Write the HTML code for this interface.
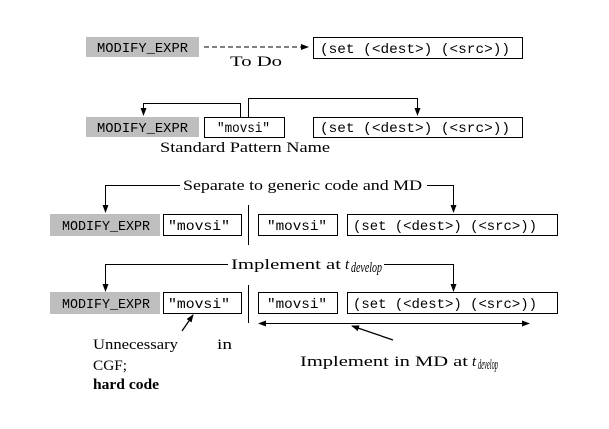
<!DOCTYPE html>
<html><head><style>
body{margin:0;background:#fff}
svg text{font-family:"Liberation Serif",serif;font-size:15px;fill:#000}
svg .m{font-family:"Liberation Mono",monospace;font-size:14px}
</style></head><body>
<svg width="609" height="424" viewBox="0 0 609 424" xmlns="http://www.w3.org/2000/svg">
<defs><marker id="a" markerWidth="8" markerHeight="6" refX="7" refY="3" orient="auto" markerUnits="userSpaceOnUse"><path d="M0,0 L8,3 L0,6 z" fill="#000"/></marker>
<marker id="b" markerWidth="8" markerHeight="6" refX="1" refY="3" orient="auto" markerUnits="userSpaceOnUse"><path d="M8,0 L0,3 L8,6 z" fill="#000"/></marker></defs>
<g stroke="#000" fill="none" stroke-width="1">
<rect x="86" y="37" width="113" height="20" fill="#bebebe" stroke="none"/>
<line x1="204" y1="47" x2="308" y2="47" stroke-dasharray="5,3" marker-end="url(#a)"/>
<rect x="313.5" y="37.5" width="209" height="21"/>
<rect x="86" y="117" width="113" height="20" fill="#bebebe" stroke="none"/>
<rect x="204.5" y="117.5" width="80" height="20"/>
<rect x="313.5" y="117.5" width="209" height="20"/>
<polyline points="240.5,117 240.5,103.5 143.5,103.5 143.5,115" marker-end="url(#a)"/>
<polyline points="248.5,117 248.5,98.5 417.5,98.5 417.5,115" marker-end="url(#a)"/>
<polyline points="180,185.5 105.5,185.5 105.5,212" marker-end="url(#a)"/>
<polyline points="427,185.5 453.5,185.5 453.5,212" marker-end="url(#a)"/>
<rect x="50" y="214" width="110" height="22" fill="#bebebe" stroke="none"/>
<rect x="163.5" y="214.5" width="78" height="21"/>
<line x1="248.5" y1="205" x2="248.5" y2="245"/>
<rect x="258.5" y="214.5" width="79" height="21"/>
<rect x="347.5" y="214.5" width="210" height="21"/>
<polyline points="228,264.5 105.5,264.5 105.5,291" marker-end="url(#a)"/>
<polyline points="384,264.5 453.5,264.5 453.5,291" marker-end="url(#a)"/>
<rect x="50" y="292" width="110" height="22" fill="#bebebe" stroke="none"/>
<rect x="163.5" y="292.5" width="78" height="21"/>
<line x1="248.5" y1="285" x2="248.5" y2="323"/>
<rect x="258.5" y="292.5" width="79" height="21"/>
<rect x="347.5" y="292.5" width="210" height="21"/>
<line x1="259" y1="323.5" x2="529" y2="323.5" marker-start="url(#b)" marker-end="url(#a)"/>
<line x1="182" y1="331" x2="193" y2="315" stroke-width="1.3" marker-end="url(#a)"/>
<line x1="393" y1="340" x2="352" y2="326" stroke-width="1.3" marker-end="url(#a)"/>
</g>
<text class="m" x="97" y="52" textLength="91" lengthAdjust="spacingAndGlyphs">MODIFY_EXPR</text>
<text class="m" x="320" y="53" textLength="190" lengthAdjust="spacingAndGlyphs">(set (&lt;dest&gt;) (&lt;src&gt;))</text>
<text x="230" y="66" textLength="52" lengthAdjust="spacingAndGlyphs">To Do</text>
<text class="m" x="97" y="132" textLength="91" lengthAdjust="spacingAndGlyphs">MODIFY_EXPR</text>
<text class="m" x="217" y="132" textLength="53" lengthAdjust="spacingAndGlyphs">"movsi"</text>
<text class="m" x="320" y="132" textLength="190" lengthAdjust="spacingAndGlyphs">(set (&lt;dest&gt;) (&lt;src&gt;))</text>
<text x="160" y="152" textLength="170" lengthAdjust="spacingAndGlyphs">Standard Pattern Name</text>
<text x="183" y="190" textLength="239" lengthAdjust="spacingAndGlyphs">Separate to generic code and MD</text>
<text class="m" x="62" y="230" textLength="88" lengthAdjust="spacingAndGlyphs">MODIFY_EXPR</text>
<text class="m" x="168" y="230" textLength="62" lengthAdjust="spacingAndGlyphs">"movsi"</text>
<text class="m" x="267" y="230" textLength="60" lengthAdjust="spacingAndGlyphs">"movsi"</text>
<text class="m" x="353" y="230" textLength="184" lengthAdjust="spacingAndGlyphs">(set (&lt;dest&gt;) (&lt;src&gt;))</text>
<text x="231" y="269" textLength="110" lengthAdjust="spacingAndGlyphs">Implement at</text>
<text x="345" y="269" font-style="italic">t</text>
<text x="351" y="272" font-style="italic" font-size="10" textLength="31" lengthAdjust="spacingAndGlyphs">develop</text>
<text class="m" x="62" y="308" textLength="88" lengthAdjust="spacingAndGlyphs">MODIFY_EXPR</text>
<text class="m" x="168" y="308" textLength="62" lengthAdjust="spacingAndGlyphs">"movsi"</text>
<text class="m" x="267" y="308" textLength="60" lengthAdjust="spacingAndGlyphs">"movsi"</text>
<text class="m" x="353" y="308" textLength="184" lengthAdjust="spacingAndGlyphs">(set (&lt;dest&gt;) (&lt;src&gt;))</text>
<text x="93" y="349" textLength="85" lengthAdjust="spacingAndGlyphs">Unnecessary</text>
<text x="217" y="349" textLength="15" lengthAdjust="spacingAndGlyphs">in</text>
<text x="93" y="370" textLength="34" lengthAdjust="spacingAndGlyphs">CGF;</text>
<text x="93" y="389" font-weight="bold" textLength="66" lengthAdjust="spacingAndGlyphs">hard code</text>
<text x="300" y="366" textLength="168" lengthAdjust="spacingAndGlyphs">Implement in MD at</text>
<text x="472" y="366" font-style="italic">t</text>
<text x="478" y="369" font-style="italic" font-size="10" textLength="20" lengthAdjust="spacingAndGlyphs">develop</text>
</svg>
</body></html>
